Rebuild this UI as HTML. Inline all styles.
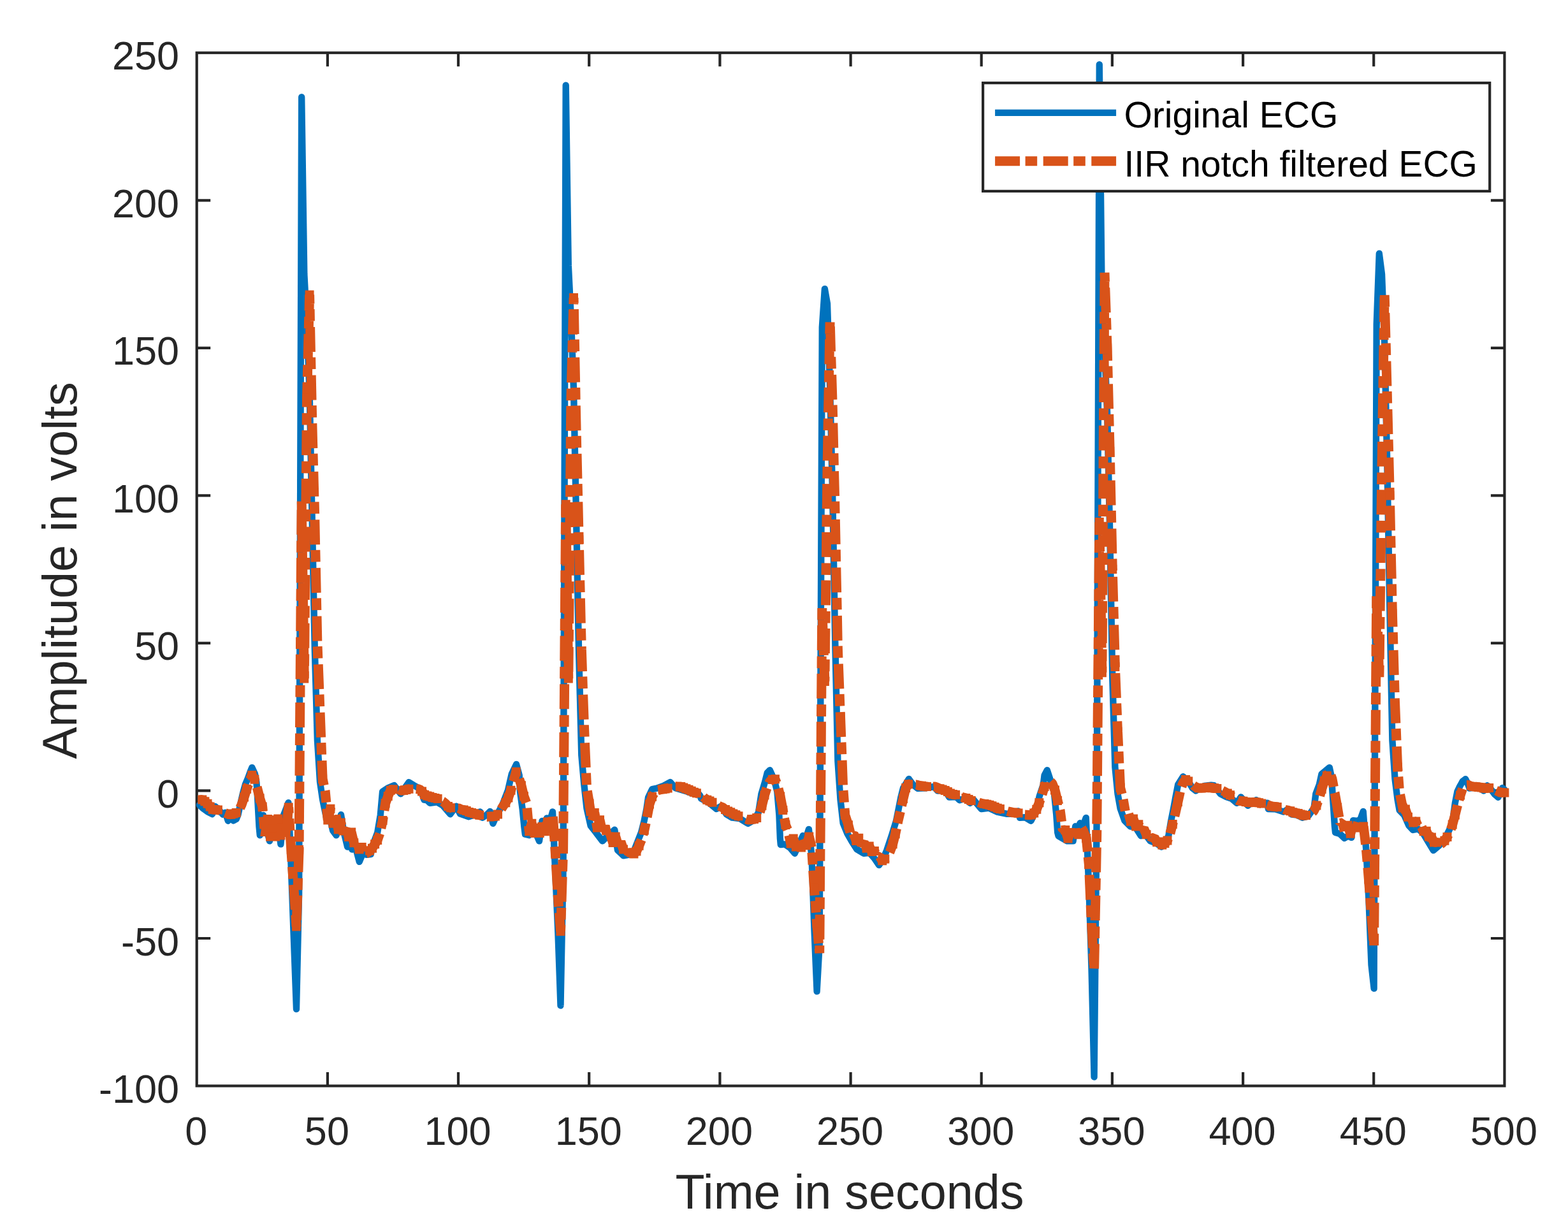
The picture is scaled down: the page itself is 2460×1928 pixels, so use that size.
<!DOCTYPE html>
<html lang="en"><head><meta charset="utf-8"><title>ECG plot</title>
<style>html,body{margin:0;padding:0;background:#fff;}body{width:2460px;height:1928px;overflow:hidden;}svg{display:block;}text{font-family:"Liberation Sans",Arial,Helvetica,sans-serif;}</style>
</head><body>
<svg width="2460" height="1928" viewBox="0 0 2460 1928">
<rect x="0" y="0" width="2460" height="1928" fill="#fff"/>
<defs><clipPath id="clip"><rect x="298.7" y="72.8" width="2071.7" height="1640.7"/></clipPath></defs>
<path d="M513.9 1703.5v-21.5M513.9 82.8v21.5M719.0 1703.5v-21.5M719.0 82.8v21.5M924.2 1703.5v-21.5M924.2 82.8v21.5M1129.4 1703.5v-21.5M1129.4 82.8v21.5M1334.6 1703.5v-21.5M1334.6 82.8v21.5M1539.7 1703.5v-21.5M1539.7 82.8v21.5M1744.9 1703.5v-21.5M1744.9 82.8v21.5M1950.1 1703.5v-21.5M1950.1 82.8v21.5M2155.2 1703.5v-21.5M2155.2 82.8v21.5M308.7 1472.0h21.5M2360.4 1472.0h-21.5M308.7 1240.4h21.5M2360.4 1240.4h-21.5M308.7 1008.9h21.5M2360.4 1008.9h-21.5M308.7 777.4h21.5M2360.4 777.4h-21.5M308.7 545.9h21.5M2360.4 545.9h-21.5M308.7 314.3h21.5M2360.4 314.3h-21.5" stroke="#262626" stroke-width="4.2" fill="none" stroke-linecap="butt"/>
<rect x="308.7" y="82.8" width="2051.7" height="1620.7" fill="none" stroke="#262626" stroke-width="4.2"/>
<g clip-path="url(#clip)" fill="none">
<polyline points="312.8,1262.9 318.3,1268.0 325.7,1273.4 333.0,1277.2 337.6,1265.1 343.1,1270.2 349.6,1277.6 353.6,1274.8 357.8,1287.7 362.0,1281.2 366.1,1287.3 370.7,1284.9 373.4,1278.5 377.5,1260.1 380.8,1245.4 384.8,1230.8 389.0,1220.7 392.7,1210.6 395.4,1204.1 400.0,1214.2 402.4,1227.1 403.7,1245.4 405.0,1269.3 406.5,1296.8 407.8,1310.3 410.1,1295.0 412.9,1278.9 417.5,1296.8 423.0,1319.4 427.6,1286.7 431.3,1289.5 435.3,1283.1 440.4,1324.4 445.0,1278.5 448.7,1269.3 452.4,1259.2 456.8,1360.8 460.9,1472.0 465.0,1583.1 469.1,1402.5 473.2,152.3 477.3,430.1 481.5,508.8 485.6,615.3 489.7,814.4 493.8,1018.2 497.9,1161.7 502.0,1226.6 506.1,1254.3 512.9,1287.3 517.5,1282.2 522.1,1302.9 527.6,1310.3 531.3,1296.8 535.0,1278.0 539.6,1306.0 545.1,1328.6 548.7,1322.5 552.4,1332.6 557.0,1326.2 563.8,1351.9 569.8,1337.2 575.3,1340.9 581.8,1340.0 585.4,1324.4 592.2,1306.0 596.8,1278.5 600.1,1241.8 608.4,1236.3 618.5,1232.1 628.6,1245.4 635.0,1236.3 641.4,1227.1 648.8,1231.7 659.8,1238.1 665.3,1254.6 669.9,1255.5 674.5,1259.8 685.5,1258.3 694.7,1263.5 706.4,1277.2 715.6,1264.8 722.0,1276.7 734.9,1281.2 744.1,1278.5 753.2,1273.4 756.9,1282.7 763.3,1278.5 768.9,1273.0 773.4,1291.9 778.9,1279.4 787.7,1263.8 796.9,1239.9 802.8,1214.2 810.1,1199.0 814.7,1216.1 816.0,1241.8 819.7,1269.3 822.4,1296.8 823.9,1308.8 830.3,1310.3 837.7,1300.5 846.0,1319.4 850.5,1288.0 854.2,1295.0 857.9,1283.5 862.5,1289.5 867.0,1273.4 871.3,1370.1 875.4,1462.7 879.5,1577.5 883.6,1365.5 887.7,133.7 891.8,416.2 895.9,499.6 900.0,610.7 904.1,814.4 908.2,1027.4 912.3,1184.9 916.4,1231.2 920.5,1268.2 926.7,1295.6 935.0,1306.0 945.1,1319.4 955.1,1309.7 964.3,1301.8 968.9,1333.6 973.5,1337.8 978.1,1342.4 986.4,1340.9 993.7,1337.2 998.7,1324.4 1006.0,1306.0 1010.6,1287.7 1014.3,1269.3 1017.0,1251.0 1023.1,1238.1 1030.4,1236.6 1041.4,1232.6 1051.5,1227.1 1059.8,1236.3 1069.0,1239.1 1078.2,1241.8 1085.5,1244.5 1092.9,1241.2 1098.4,1248.2 1100.0,1252.8 1112.8,1259.8 1123.9,1269.0 1131.2,1264.8 1139.5,1277.2 1148.7,1282.7 1160.6,1284.0 1173.4,1291.9 1182.6,1286.7 1189.9,1274.8 1194.5,1245.4 1200.0,1227.1 1203.7,1212.4 1207.8,1208.2 1214.7,1223.4 1219.3,1241.8 1222.4,1278.5 1223.9,1315.2 1224.8,1325.0 1231.3,1324.4 1239.5,1329.9 1246.9,1338.7 1253.3,1324.4 1259.7,1311.0 1264.3,1315.2 1268.9,1300.9 1273.4,1342.3 1277.5,1458.1 1281.6,1555.3 1285.7,1481.2 1289.8,513.4 1293.9,453.2 1298.0,476.4 1302.1,606.1 1306.2,777.4 1310.3,1008.9 1314.4,1194.1 1318.5,1254.3 1322.7,1291.4 1329.5,1307.9 1336.8,1320.7 1344.2,1332.3 1355.1,1338.7 1364.3,1337.8 1371.7,1346.4 1379.0,1357.1 1385.4,1348.2 1391.3,1333.6 1398.7,1311.5 1406.0,1287.7 1409.7,1269.3 1413.3,1251.0 1417.0,1236.3 1425.9,1222.0 1432.3,1230.8 1439.6,1236.8 1452.4,1236.3 1465.3,1233.9 1470.8,1240.5 1482.8,1239.9 1489.2,1250.6 1500.0,1250.0 1505.5,1255.2 1513.8,1252.8 1522.0,1259.8 1527.5,1254.6 1539.5,1269.0 1551.4,1267.5 1564.3,1273.6 1578.9,1276.7 1589.9,1276.7 1597.3,1272.4 1600.0,1282.7 1608.3,1282.2 1617.5,1287.7 1625.7,1271.1 1630.7,1249.1 1636.8,1230.8 1638.6,1216.1 1642.8,1208.2 1647.8,1223.4 1653.6,1241.8 1657.3,1278.5 1659.2,1306.0 1660.6,1311.5 1667.0,1315.2 1674.4,1319.4 1683.6,1319.4 1687.2,1296.3 1690.9,1298.7 1694.6,1291.3 1699.2,1295.0 1703.8,1282.9 1708.4,1393.3 1712.5,1518.3 1716.6,1689.6 1720.7,1277.5 1724.8,101.3 1728.9,481.0 1733.0,545.9 1737.1,647.7 1741.2,833.0 1745.3,1064.5 1749.4,1203.4 1753.5,1245.1 1757.6,1268.2 1764.3,1287.3 1773.5,1296.5 1780.9,1296.8 1790.0,1311.2 1797.4,1309.7 1804.7,1319.4 1813.9,1322.5 1822.2,1328.6 1828.6,1320.7 1833.2,1311.5 1837.2,1287.7 1840.9,1269.3 1844.6,1249.1 1848.2,1230.8 1856.1,1218.3 1865.3,1227.1 1870.8,1236.3 1876.3,1240.5 1882.8,1236.3 1889.2,1233.0 1900.0,1231.7 1904.6,1232.1 1914.7,1245.4 1923.9,1250.0 1932.1,1252.8 1940.4,1259.8 1946.8,1250.4 1952.3,1256.5 1957.8,1263.8 1964.3,1258.3 1970.7,1255.0 1978.9,1260.1 1988.1,1259.6 1989.9,1269.0 2001.0,1269.3 2013.8,1273.6 2020.2,1269.7 2026.7,1277.6 2034.9,1278.5 2043.2,1282.7 2052.4,1280.3 2061.5,1267.5 2064.3,1245.4 2069.8,1230.8 2073.5,1214.2 2085.8,1204.1 2089.1,1219.7 2090.4,1241.8 2092.2,1269.3 2094.0,1296.8 2095.0,1306.0 2101.9,1307.9 2109.3,1314.9 2114.8,1311.5 2120.3,1313.9 2123.0,1287.1 2129.5,1288.0 2134.1,1285.8 2138.7,1273.0 2143.3,1333.1 2147.4,1411.8 2151.5,1513.6 2155.6,1550.7 2159.7,508.8 2163.8,397.7 2168.0,430.1 2172.1,536.6 2176.2,721.8 2180.3,953.3 2184.4,1161.7 2188.5,1221.9 2192.6,1254.3 2195.6,1271.1 2202.9,1278.5 2210.2,1295.0 2216.7,1302.0 2224.9,1300.5 2232.3,1306.6 2239.6,1318.9 2248.8,1334.1 2258.0,1326.2 2267.1,1315.2 2274.5,1300.5 2279.1,1287.7 2282.8,1260.1 2286.4,1241.8 2289.5,1235.1 2294.5,1225.9 2299.1,1222.2 2302.8,1229.6 2305.5,1236.5 2314.7,1235.1 2322.1,1236.0 2327.6,1240.6 2333.1,1232.3 2339.5,1238.7 2345.0,1246.1 2350.5,1250.7 2357.0,1236.0 2360.4,1238.7" stroke="#0072BD" stroke-width="10.4" stroke-linecap="round" stroke-linejoin="round"/>
<path d="M313.2 1255.0L317.3 1254.4L321.4 1257.3L325.5 1260.7L329.6 1265.5L333.7 1270.1L337.8 1270.3L341.9 1270.5L345.5 1271.8M353.1 1275.5L354.2 1275.9L358.4 1277.2L362.5 1277.7L366.6 1276.4L370.7 1275.1L370.9 1274.9M376.6 1267.5L378.9 1262.8L383.0 1250.6L387.1 1237.8L389.5 1230.7M392.4 1222.8L395.3 1216.0L399.4 1222.8L400.4 1226.0M403.1 1235.0L403.5 1236.2L407.6 1252.2L411.7 1265.5L412.4 1272.8M413.1 1281.3L414.8 1299.8M415.6 1309.3L415.8 1311.1L419.9 1284.9L421.5 1295.4M422.7 1303.8L424.0 1312.4L425.5 1302.6M427.0 1293.2L428.1 1286.2L432.2 1312.4L433.0 1307.0M434.2 1298.6L436.3 1284.6L437.0 1289.0M438.5 1298.3L440.4 1310.5L444.2 1284.1M445.6 1288.3L448.6 1305.9L448.7 1305.2M449.7 1295.7L452.7 1266.4L453.3 1275.9M453.8 1284.4L454.9 1303.0M455.5 1312.4L456.8 1333.1L458.0 1351.4M458.6 1359.8L459.9 1378.4M460.5 1387.9L460.9 1393.3L463.2 1426.8M463.8 1435.3L465.0 1453.4L465.0 1453.0M465.3 1443.5L466.7 1404.5M467.0 1396.0L467.6 1377.4M467.9 1367.9L469.1 1333.1L469.1 1328.9M469.2 1320.4L469.3 1301.8M469.4 1292.3L469.7 1253.3M469.8 1244.8L469.9 1226.2M470.0 1216.7L470.3 1177.7M470.3 1169.2L470.5 1150.6M470.5 1141.1L470.8 1102.1M470.9 1093.6L471.0 1075.0M471.1 1065.5L471.4 1026.6M471.5 1018.1L471.6 999.5M471.7 990.0L472.0 951.0M472.0 942.5L472.2 923.9M472.2 914.4L472.5 875.4M472.6 866.9L472.7 848.3M472.8 838.8L473.1 799.8M473.2 791.3L473.2 786.6L473.4 800.5M473.5 810.0L474.1 849.0M474.2 857.5L474.5 876.1M474.7 885.6L475.2 924.6M475.4 933.1L475.6 951.7M475.8 961.2L476.4 1000.2M476.5 1008.7L476.8 1027.3M476.9 1036.8L477.3 1064.5L477.4 1053.2M477.5 1044.7L477.7 1026.1M477.8 1016.6L478.1 977.6M478.2 969.1L478.4 950.5M478.5 941.0L478.9 902.0M478.9 893.5L479.1 874.9M479.2 865.4L479.6 826.4M479.7 817.9L479.8 799.3M479.9 789.8L480.3 750.8M480.4 742.3L480.6 723.7M480.6 714.2L481.0 675.2M481.1 666.7L481.3 648.1M481.4 638.6L481.5 624.6L482.1 599.6M482.3 591.1L482.8 572.5M483.1 563.0L484.0 524.0M484.3 515.5L484.7 496.9M485.0 487.5L485.6 462.5L485.9 476.5M486.1 485.0L486.4 503.6M486.6 513.1L487.4 552.1M487.6 560.6L488.0 579.2M488.2 588.7L489.0 627.7M489.2 636.2L489.6 654.8M489.8 664.3L490.8 703.3M491.0 711.8L491.5 730.4M491.8 739.9L492.8 778.9M493.1 787.4L493.6 805.9M493.8 815.4L494.6 854.4M494.8 862.9L495.2 881.5M495.4 891.0L496.2 930.0M496.4 938.5L496.8 957.1M497.0 966.6L497.8 1005.6M498.1 1014.1L498.8 1032.7M499.2 1042.2L500.7 1081.1M501.0 1089.6L501.7 1108.2M502.1 1117.7L503.6 1156.7M503.9 1165.2L504.6 1183.8M505.0 1193.3L506.1 1221.9L508.2 1232.0M510.0 1240.3L510.2 1241.5L511.8 1258.8M512.6 1268.3L514.3 1286.6L518.4 1268.7L518.8 1270.9M520.3 1279.3L522.5 1291.7L524.2 1285.9M526.8 1278.6L530.7 1301.3L534.8 1290.4L535.7 1294.6M537.6 1302.9L538.9 1308.6L542.9 1296.5M545.2 1305.3L547.1 1313.1L551.2 1305.6L555.3 1322.3L558.6 1318.2M561.3 1324.3L563.5 1332.5L567.6 1328.9L569.3 1333.3M574.2 1338.9L575.8 1338.4L579.9 1334.5L584.0 1330.7L588.1 1324.2L592.2 1317.9L595.8 1307.6M597.8 1299.4L600.5 1287.0L601.4 1281.1M602.8 1271.7L604.6 1260.3L608.7 1249.1L612.8 1239.7L616.9 1238.3L617.7 1237.9M625.5 1238.5L629.2 1240.2L633.3 1240.1L637.4 1238.9L641.5 1237.8L643.4 1237.5M652.8 1237.6L653.8 1237.7L657.9 1237.9L662.0 1241.4L666.1 1246.7L670.2 1248.6L674.3 1249.5L678.4 1251.1L682.5 1251.9L686.6 1253.0L686.9 1253.1M694.4 1257.1L694.8 1257.3L698.9 1260.6L703.0 1265.1L707.1 1267.3L709.2 1267.7M718.7 1267.9L719.5 1267.9L723.6 1269.8L727.7 1270.6L731.8 1272.0L735.9 1273.9L740.0 1275.1L744.1 1276.2L748.2 1277.6L752.3 1278.8L755.7 1279.7M763.8 1281.4L764.6 1281.4L768.7 1280.7L772.8 1281.1L776.9 1280.4L781.0 1277.6L781.2 1277.2M786.5 1269.3L789.2 1264.7L793.3 1259.3L797.4 1251.5L801.5 1239.8L803.1 1234.4M805.4 1226.2L805.6 1225.6L809.7 1210.8L810.8 1213.2M814.6 1221.9L817.9 1232.2L822.0 1249.2L825.7 1259.2M826.8 1267.6L828.5 1286.1M829.4 1295.6L830.2 1304.3L834.3 1291.7L838.4 1306.9L838.8 1305.7M841.5 1297.6L842.6 1294.3L846.7 1307.1L847.1 1305.5M849.6 1296.4L850.8 1291.8L854.9 1304.2L859.0 1289.3L860.7 1294.8M863.2 1301.9L866.2 1283.5M867.4 1280.9L870.1 1319.8M870.7 1328.3L871.3 1337.7L871.8 1346.9M872.4 1356.3L874.7 1395.3M875.2 1403.8L875.4 1407.1L876.6 1422.3M877.3 1431.8L879.5 1460.9L879.8 1451.1M880.1 1442.6L880.7 1424.0M881.0 1414.5L882.2 1375.5M882.5 1367.1L883.1 1348.5M883.4 1339.0L883.6 1333.1L883.9 1300.0M883.9 1291.5L884.1 1272.9M884.1 1263.4L884.4 1224.4M884.5 1215.9L884.6 1197.3M884.7 1187.8L885.0 1148.8M885.1 1140.3L885.2 1121.7M885.3 1112.2L885.6 1073.2M885.6 1064.7L885.8 1046.1M885.8 1036.6L886.1 997.6M886.2 989.1L886.3 970.5M886.4 961.0L886.7 922.0M886.8 913.5L886.9 894.9M887.0 885.4L887.3 846.4M887.3 837.9L887.5 819.3M887.6 809.8L887.7 791.3L888.0 811.8M888.1 820.3L888.4 838.9M888.6 848.4L889.1 887.4M889.3 895.9L889.5 914.5M889.7 924.0L890.3 963.0M890.4 971.5L890.7 990.1M890.8 999.6L891.4 1038.6M891.5 1047.1L891.8 1064.5L891.8 1063.3M891.9 1053.8L892.3 1014.8M892.3 1006.3L892.5 987.7M892.6 978.2L893.0 939.2M893.0 930.7L893.2 912.1M893.3 902.6L893.7 863.6M893.8 855.1L893.9 836.5M894.0 827.0L894.4 788.0M894.5 779.5L894.6 760.9M894.7 751.4L895.1 712.4M895.2 703.9L895.3 685.3M895.4 675.8L895.8 636.8M895.9 628.3L895.9 624.6L896.3 609.7M896.5 600.2L897.5 561.3M897.8 552.8L898.3 534.2M898.5 524.7L899.5 485.7M899.7 477.2L900.0 467.1L900.2 475.6M900.4 485.1L901.1 524.1M901.3 532.6L901.7 551.2M901.8 560.7L902.6 599.7M902.8 608.2L903.1 626.8M903.3 636.3L904.1 675.3M904.3 683.8L904.7 702.4M905.0 711.9L905.9 750.9M906.1 759.3L906.6 777.9M906.8 787.4L907.7 826.4M907.9 834.9L908.2 846.8L908.4 853.5M908.6 863.0L909.5 902.0M909.7 910.5L910.2 929.1M910.4 938.6L911.3 977.6M911.5 986.1L912.0 1004.7M912.2 1014.2L912.3 1018.2L913.5 1053.2M913.8 1061.6L914.4 1080.2M914.7 1089.7L916.1 1128.7M916.4 1137.2L916.4 1138.6L917.1 1155.8M917.5 1165.3L919.2 1204.2M919.5 1212.7L920.3 1231.3M921.3 1240.7L924.6 1260.5L927.4 1279.3M928.8 1287.3L932.8 1275.1L933.8 1280.7M935.4 1290.1L936.9 1298.4L941.0 1286.3L944.7 1303.7M947.4 1299.9L949.2 1295.5L952.0 1309.1M954.7 1313.1L957.4 1308.2L961.6 1321.9L965.7 1312.4L968.2 1320.7M971.5 1323.7L973.9 1320.5L978.0 1332.6L979.3 1331.4M984.3 1333.9L986.2 1338.4L990.3 1337.5L994.4 1339.4L998.5 1335.5L1002.6 1326.8L1006.3 1317.4M1008.8 1309.3L1010.8 1302.4L1013.2 1291.2M1015.1 1281.9L1019.0 1261.4L1023.1 1249.7L1026.0 1244.8M1032.4 1239.5L1035.4 1239.0L1039.5 1238.2L1043.6 1237.4L1047.7 1236.5L1050.5 1235.4M1059.7 1233.7L1060.0 1233.7L1064.1 1233.9L1068.2 1234.1L1072.3 1235.6L1076.4 1237.2L1080.5 1238.8L1084.7 1240.7L1088.8 1242.8L1092.9 1244.2L1096.3 1245.7M1103.5 1250.2L1105.2 1251.8L1109.3 1254.7L1113.4 1256.6L1117.5 1258.7L1119.3 1259.7M1127.7 1264.3L1129.8 1265.1L1133.9 1266.8L1138.0 1269.9L1142.1 1272.5L1146.2 1274.3L1150.3 1276.4L1154.4 1278.3L1158.5 1280.2L1162.4 1281.7M1170.2 1285.0L1170.8 1285.2L1174.9 1286.2L1179.0 1285.5L1183.1 1284.9L1187.2 1282.9L1187.7 1282.2M1192.2 1273.9L1195.4 1263.7L1199.5 1247.3L1203.0 1236.4M1206.4 1228.6L1207.8 1225.6L1211.9 1223.0L1216.0 1222.2L1218.3 1228.0M1221.1 1237.0L1224.2 1249.6L1228.3 1271.0L1229.0 1275.2M1230.5 1283.6L1232.4 1293.9L1235.5 1301.4M1237.9 1310.5L1240.6 1323.4L1244.7 1315.4L1248.8 1328.5L1250.0 1325.6M1253.1 1318.7L1257.0 1329.6L1259.1 1322.9M1262.3 1319.6L1265.2 1326.3L1269.3 1312.4L1273.4 1329.2M1273.9 1337.6L1275.1 1356.2M1275.7 1365.7L1277.5 1393.3L1278.3 1404.6M1279.0 1413.1L1280.3 1431.6M1281.0 1441.1L1281.6 1448.8L1284.4 1480.0M1285.1 1488.4L1285.7 1495.1L1285.8 1483.2M1285.9 1473.7L1286.2 1434.7M1286.2 1426.2L1286.4 1407.6M1286.4 1398.1L1286.7 1359.1M1286.8 1350.6L1286.9 1332.0M1287.0 1322.5L1287.3 1283.5M1287.4 1275.0L1287.5 1256.4M1287.6 1246.9L1287.9 1207.9M1287.9 1199.4L1288.1 1180.8M1288.2 1171.3L1288.4 1132.3M1288.5 1123.8L1288.7 1105.2M1288.7 1095.7L1289.0 1056.7M1289.1 1048.2L1289.2 1029.6M1289.3 1020.1L1289.6 981.1M1289.7 972.6L1289.8 954.0M1290.1 962.1L1291.5 1001.1M1291.8 1009.6L1292.4 1028.1M1292.8 1037.6L1293.9 1069.1L1294.0 1061.6M1294.1 1053.1L1294.3 1034.5M1294.4 1025.0L1294.9 986.0M1295.0 977.5L1295.2 958.9M1295.4 949.4L1295.8 910.4M1295.9 901.9L1296.2 883.3M1296.3 873.8L1296.7 834.8M1296.8 826.3L1297.1 807.7M1297.2 798.2L1297.7 759.2M1297.8 750.7L1298.0 732.1M1298.2 722.6L1298.9 683.6M1299.0 675.1L1299.3 656.5M1299.5 647.0L1300.2 608.0M1300.4 599.5L1300.7 580.9M1300.9 571.4L1301.6 532.4M1301.7 523.9L1302.1 505.3M1302.4 512.5L1303.5 551.5M1303.8 560.0L1304.4 578.6M1304.7 588.1L1305.9 627.1M1306.1 635.6L1306.2 638.5L1306.6 654.2M1306.8 663.7L1307.7 702.7M1307.9 711.2L1308.3 729.8M1308.5 739.3L1309.5 778.3M1309.7 786.7L1310.1 805.3M1310.3 814.8L1311.1 853.8M1311.3 862.3L1311.6 880.9M1311.8 890.4L1312.6 929.4M1312.8 937.9L1313.2 956.5M1313.4 966.0L1314.1 1005.0M1314.3 1013.5L1314.4 1018.2L1314.9 1032.1M1315.3 1041.6L1316.8 1080.6M1317.1 1089.0L1317.8 1107.6M1318.2 1117.1L1318.5 1124.7L1319.7 1156.1M1320.0 1164.6L1320.7 1183.2M1321.1 1192.7L1322.5 1231.6M1323.0 1240.1L1324.4 1258.7M1325.0 1268.2L1325.8 1278.5L1330.9 1294.3L1333.9 1306.0M1338.4 1308.2L1339.1 1307.8L1343.2 1319.0L1347.3 1314.8M1350.8 1323.6L1351.4 1325.2L1355.5 1321.8L1359.6 1330.8L1363.7 1327.4L1367.8 1336.0L1371.9 1335.0L1373.2 1337.8M1377.8 1343.8L1380.1 1343.7L1384.2 1350.3L1388.3 1347.5L1391.1 1345.3M1395.7 1337.1L1396.5 1335.4L1400.6 1324.3L1404.7 1308.2L1406.5 1299.7M1408.2 1291.4L1408.8 1288.5L1412.4 1273.3M1414.5 1264.0L1417.0 1253.1L1421.1 1236.1L1425.2 1230.3L1428.4 1230.1M1436.8 1231.0L1437.5 1231.0L1441.6 1232.0L1445.8 1232.8L1449.9 1233.7L1454.0 1234.1L1455.1 1234.2M1464.6 1234.1L1466.3 1233.9L1470.4 1235.3L1474.5 1237.2L1478.6 1238.4L1482.7 1240.0L1486.8 1241.9L1490.9 1244.5L1495.0 1245.9L1499.1 1246.8L1500.9 1247.0M1508.6 1250.2L1511.4 1251.0L1515.5 1252.1L1519.6 1254.1L1523.7 1255.9L1526.1 1256.1M1535.2 1258.7L1536.0 1259.0L1540.1 1260.4L1544.2 1261.1L1548.3 1261.8L1552.4 1262.7L1556.5 1264.2L1560.6 1266.0L1564.8 1267.8L1568.9 1269.0L1572.4 1269.9M1580.5 1272.6L1581.2 1272.8L1585.3 1273.6L1589.4 1274.5L1593.5 1275.3L1597.6 1275.4L1598.7 1275.8M1607.9 1278.1L1609.9 1278.2L1614.0 1278.5L1618.1 1278.6L1622.2 1275.4L1626.3 1269.8L1630.4 1259.3L1632.2 1254.3M1634.9 1246.2L1638.6 1234.1L1641.2 1228.8M1648.1 1226.1L1650.9 1229.1L1655.0 1239.4L1659.1 1256.0L1660.8 1262.4M1663.0 1270.7L1663.2 1271.6L1665.5 1289.1M1666.8 1298.5L1667.3 1302.2L1671.4 1302.1L1675.5 1315.5L1679.6 1306.1L1682.7 1312.3M1685.8 1308.4L1687.9 1302.5L1692.0 1309.3L1693.4 1305.2M1696.9 1298.9L1700.2 1304.4L1704.3 1314.9L1706.4 1336.0M1707.2 1344.5L1708.4 1356.2L1708.7 1363.0M1709.1 1372.5L1710.8 1411.5M1711.2 1420.0L1712.0 1438.6M1712.5 1448.1L1712.5 1448.8L1714.7 1487.0M1715.1 1495.5L1716.2 1514.1M1716.6 1519.5L1717.4 1480.5M1717.6 1472.0L1717.9 1453.4M1718.1 1443.9L1718.9 1404.9M1719.0 1396.4L1719.4 1377.8M1719.6 1368.3L1720.3 1329.3M1720.5 1320.8L1720.7 1309.9L1720.8 1302.2M1720.8 1292.7L1721.2 1253.7M1721.2 1245.2L1721.4 1226.6M1721.5 1217.1L1721.8 1178.1M1721.9 1169.6L1722.0 1151.0M1722.1 1141.5L1722.4 1102.5M1722.5 1094.0L1722.7 1075.4M1722.7 1065.9L1723.1 1026.9M1723.1 1018.4L1723.3 999.8M1723.4 990.3L1723.7 951.3M1723.8 942.8L1723.9 924.2M1724.0 914.7L1724.3 875.7M1724.4 867.2L1724.6 848.6M1724.6 839.1L1724.8 819.1L1725.1 838.1M1725.3 846.6L1725.6 865.2M1725.8 874.7L1726.4 913.7M1726.6 922.2L1726.9 940.8M1727.1 950.3L1727.8 989.3M1727.9 997.8L1728.2 1016.4M1728.4 1025.9L1728.9 1055.2L1729.0 1045.6M1729.0 1037.1L1729.1 1018.5M1729.2 1009.0L1729.5 970.0M1729.5 961.5L1729.6 942.9M1729.7 933.4L1730.0 894.4M1730.0 885.9L1730.1 867.3M1730.2 857.8L1730.4 818.8M1730.5 810.3L1730.6 791.7M1730.7 782.2L1730.9 743.2M1731.0 734.7L1731.1 716.1M1731.2 706.6L1731.4 667.6M1731.5 659.1L1731.6 640.5M1731.7 631.0L1731.9 592.0M1732.0 583.5L1732.1 564.9M1732.2 555.4L1732.4 516.4M1732.5 507.9L1732.6 489.3M1732.7 479.8L1732.9 440.8M1733.0 432.3L1733.0 427.8L1733.5 441.9M1733.8 451.4L1735.2 490.4M1735.5 498.9L1736.1 517.5M1736.4 527.0L1737.1 545.9L1737.6 566.0M1737.8 574.5L1738.3 593.0M1738.5 602.5L1739.5 641.5M1739.7 650.0L1740.2 668.6M1740.4 678.1L1741.2 707.9L1741.4 717.1M1741.6 725.6L1742.0 744.2M1742.2 753.7L1743.1 792.7M1743.3 801.2L1743.7 819.8M1743.9 829.3L1744.8 868.3M1744.9 876.8L1745.3 893.1L1745.4 895.4M1745.6 904.9L1746.7 943.8M1746.9 952.3L1747.4 970.9M1747.6 980.4L1748.7 1019.4M1748.9 1027.9L1749.4 1046.0L1749.4 1046.5M1749.8 1056.0L1751.4 1095.0M1751.7 1103.5L1752.5 1122.1M1752.8 1131.5L1753.5 1147.8L1754.6 1170.5M1755.0 1179.0L1755.8 1197.6M1756.3 1207.1L1757.6 1235.8L1760.1 1245.7M1762.1 1254.0L1765.3 1272.3M1770.5 1276.5L1774.0 1288.8L1778.1 1284.6L1782.2 1296.5L1786.3 1293.2L1787.2 1295.5M1790.4 1303.3L1794.5 1299.9L1798.6 1309.2L1801.4 1307.6M1806.2 1314.0L1806.9 1315.4L1811.0 1313.9L1815.1 1321.3L1819.2 1320.6L1823.3 1325.4L1827.4 1323.1L1831.5 1318.6L1832.7 1315.4M1835.8 1307.5L1839.7 1292.9L1840.5 1289.5M1842.8 1280.3L1843.8 1276.3L1847.9 1258.1L1851.4 1242.2M1853.9 1234.1L1856.1 1227.9L1860.2 1223.1L1864.3 1225.5L1865.1 1226.0M1872.3 1232.0L1872.5 1232.2L1876.6 1234.9L1880.7 1236.3L1884.8 1236.2L1888.9 1236.1L1893.0 1235.6L1897.1 1234.9L1901.2 1236.2L1905.3 1236.3L1909.4 1236.9L1909.8 1237.1M1917.7 1240.3L1921.7 1242.2L1925.8 1244.6L1930.0 1247.3L1933.5 1250.0M1941.4 1255.3L1942.3 1255.8L1946.4 1256.5L1950.5 1256.7L1954.6 1258.1L1958.7 1258.9L1962.8 1258.8L1966.9 1258.5L1971.0 1258.5L1975.1 1259.2L1979.2 1260.5L1979.6 1260.6M1987.9 1262.3L1991.5 1263.7L1995.6 1265.0L1999.7 1265.4L2003.8 1266.0L2005.9 1266.5M2014.8 1269.7L2016.1 1270.3L2020.2 1271.1L2024.3 1272.2L2028.4 1274.3L2032.5 1275.4L2036.6 1276.1L2040.7 1277.6L2044.8 1279.3L2049.0 1279.0L2052.0 1278.2M2059.3 1273.9L2061.3 1272.1L2065.4 1263.6L2067.6 1257.5M2070.6 1248.5L2073.6 1237.9L2077.7 1225.1L2081.8 1216.9L2084.7 1212.4M2088.0 1216.4L2090.0 1222.1L2092.3 1234.4M2094.0 1243.8L2094.1 1244.1L2098.2 1266.8L2100.8 1282.2M2102.2 1290.6L2102.3 1291.4L2106.4 1290.7L2109.4 1304.0M2111.8 1304.2L2114.6 1294.7L2118.7 1307.8L2122.6 1293.0M2125.4 1299.3L2126.9 1303.5L2130.4 1289.8M2133.3 1293.8L2135.1 1299.1L2139.2 1296.4L2142.6 1324.7M2143.5 1333.1L2145.1 1351.7M2145.9 1361.1L2147.4 1379.4L2148.9 1400.0M2149.5 1408.5L2150.9 1427.0M2151.6 1436.5L2154.9 1475.4M2155.6 1483.2L2155.7 1464.6M2155.8 1455.1L2156.1 1416.1M2156.2 1407.6L2156.3 1389.0M2156.4 1379.5L2156.7 1340.5M2156.7 1332.0L2156.9 1313.4M2156.9 1303.9L2157.2 1264.9M2157.3 1256.4L2157.4 1237.8M2157.5 1228.3L2157.8 1189.3M2157.9 1180.8L2158.0 1162.2M2158.1 1152.7L2158.4 1113.7M2158.4 1105.2L2158.6 1086.6M2158.6 1077.1L2158.9 1038.1M2159.0 1029.6L2159.1 1011.0M2159.2 1001.5L2159.5 962.5M2159.6 954.0L2159.7 935.4M2160.0 943.7L2161.2 982.7M2161.5 991.2L2162.1 1009.8M2162.4 1019.3L2163.6 1058.3M2163.8 1062.2L2164.1 1043.6M2164.2 1034.1L2164.7 995.1M2164.8 986.6L2165.0 968.0M2165.1 958.5L2165.6 919.6M2165.7 911.1L2166.0 892.5M2166.1 883.0L2166.6 844.0M2166.7 835.5L2166.9 816.9M2167.0 807.4L2167.5 768.4M2167.6 759.9L2167.9 741.3M2168.0 731.8L2168.0 731.1L2168.6 692.8M2168.7 684.3L2169.0 665.7M2169.1 656.2L2169.7 617.2M2169.9 608.7L2170.1 590.1M2170.3 580.6L2170.9 541.6M2171.0 533.1L2171.3 514.5M2171.4 505.0L2172.0 466.0M2172.2 462.9L2172.7 481.5M2172.9 491.0L2173.9 530.0M2174.2 538.5L2174.7 557.1M2174.9 566.6L2175.9 605.6M2176.2 614.0L2176.2 615.3L2176.6 632.6M2176.9 642.1L2177.9 681.1M2178.1 689.6L2178.6 708.2M2178.8 717.7L2179.8 756.7M2180.0 765.2L2180.3 777.4L2180.4 783.8M2180.7 793.3L2181.5 832.3M2181.7 840.8L2182.1 859.4M2182.3 868.9L2183.2 907.9M2183.4 916.4L2183.8 935.0M2184.0 944.5L2184.4 962.6L2185.0 983.4M2185.3 991.9L2185.8 1010.5M2186.1 1020.0L2187.2 1059.0M2187.5 1067.5L2188.0 1086.1M2188.3 1095.6L2188.5 1101.5L2189.8 1134.6M2190.2 1143.1L2190.9 1161.6M2191.3 1171.1L2192.6 1203.4L2193.1 1210.1M2193.8 1218.6L2195.2 1237.1M2196.5 1246.5L2200.8 1267.6L2204.9 1269.6L2209.0 1281.7L2209.1 1281.6M2214.6 1283.8L2217.2 1290.4L2221.3 1288.5L2224.2 1294.8M2230.4 1297.3L2233.6 1304.3L2237.7 1303.7L2241.8 1312.5L2245.9 1313.6L2250.0 1321.5L2254.1 1321.4L2254.3 1321.5M2260.9 1323.7L2262.3 1323.0L2266.4 1318.8L2270.5 1312.9L2272.5 1309.4M2276.3 1300.8L2278.7 1293.6L2282.8 1278.5L2286.6 1263.2M2288.9 1255.0L2291.1 1247.5L2294.5 1237.3M2301.1 1231.5L2303.4 1231.4L2307.5 1233.3L2311.6 1233.9L2315.7 1234.2L2319.8 1234.9L2323.9 1235.3L2328.0 1236.4L2332.1 1236.6L2336.2 1236.0L2339.2 1237.0M2347.1 1240.1L2348.5 1240.7L2352.6 1242.8L2356.7 1243.3L2360.4 1243.5" stroke="#D95319" stroke-width="15.0" stroke-linecap="butt" stroke-linejoin="bevel"/>
<path d="M310.3 1247.4h14.0v14.0h-14.0zM314.4 1250.3h14.0v14.0h-14.0zM318.5 1253.7h14.0v14.0h-14.0zM322.6 1258.5h14.0v14.0h-14.0zM326.7 1263.1h14.0v14.0h-14.0zM330.8 1263.3h14.0v14.0h-14.0zM334.9 1263.5h14.0v14.0h-14.0zM355.5 1270.7h14.0v14.0h-14.0zM359.6 1269.4h14.0v14.0h-14.0zM363.7 1268.1h14.0v14.0h-14.0zM376.0 1243.6h14.0v14.0h-14.0zM380.1 1230.8h14.0v14.0h-14.0zM388.3 1209.0h14.0v14.0h-14.0zM392.4 1215.8h14.0v14.0h-14.0zM400.6 1245.2h14.0v14.0h-14.0zM404.7 1258.5h14.0v14.0h-14.0zM412.9 1277.9h14.0v14.0h-14.0zM417.0 1305.4h14.0v14.0h-14.0zM421.1 1279.2h14.0v14.0h-14.0zM425.2 1305.4h14.0v14.0h-14.0zM429.3 1277.6h14.0v14.0h-14.0zM433.4 1303.5h14.0v14.0h-14.0zM441.6 1298.9h14.0v14.0h-14.0zM445.7 1259.4h14.0v14.0h-14.0zM449.8 1326.1h14.0v14.0h-14.0zM458.0 1446.4h14.0v14.0h-14.0zM462.1 1326.1h14.0v14.0h-14.0zM470.3 1057.5h14.0v14.0h-14.0zM474.5 617.6h14.0v14.0h-14.0zM478.6 455.5h14.0v14.0h-14.0zM499.1 1214.9h14.0v14.0h-14.0zM507.3 1279.6h14.0v14.0h-14.0zM511.4 1261.7h14.0v14.0h-14.0zM515.5 1284.7h14.0v14.0h-14.0zM523.7 1294.3h14.0v14.0h-14.0zM527.8 1283.4h14.0v14.0h-14.0zM540.1 1306.1h14.0v14.0h-14.0zM544.2 1298.6h14.0v14.0h-14.0zM548.3 1315.3h14.0v14.0h-14.0zM556.5 1325.5h14.0v14.0h-14.0zM560.6 1321.9h14.0v14.0h-14.0zM572.9 1327.5h14.0v14.0h-14.0zM577.0 1323.7h14.0v14.0h-14.0zM581.1 1317.2h14.0v14.0h-14.0zM585.2 1310.9h14.0v14.0h-14.0zM593.5 1280.0h14.0v14.0h-14.0zM597.6 1253.3h14.0v14.0h-14.0zM601.7 1242.1h14.0v14.0h-14.0zM605.8 1232.7h14.0v14.0h-14.0zM609.9 1231.3h14.0v14.0h-14.0zM626.3 1233.1h14.0v14.0h-14.0zM630.4 1231.9h14.0v14.0h-14.0zM634.5 1230.8h14.0v14.0h-14.0zM655.0 1234.4h14.0v14.0h-14.0zM659.1 1239.7h14.0v14.0h-14.0zM663.2 1241.6h14.0v14.0h-14.0zM667.3 1242.5h14.0v14.0h-14.0zM671.4 1244.1h14.0v14.0h-14.0zM675.5 1244.9h14.0v14.0h-14.0zM679.6 1246.0h14.0v14.0h-14.0zM696.0 1258.1h14.0v14.0h-14.0zM700.1 1260.3h14.0v14.0h-14.0zM720.7 1263.6h14.0v14.0h-14.0zM724.8 1265.0h14.0v14.0h-14.0zM728.9 1266.9h14.0v14.0h-14.0zM733.0 1268.1h14.0v14.0h-14.0zM737.1 1269.2h14.0v14.0h-14.0zM741.2 1270.6h14.0v14.0h-14.0zM745.3 1271.8h14.0v14.0h-14.0zM765.8 1274.1h14.0v14.0h-14.0zM769.9 1273.4h14.0v14.0h-14.0zM774.0 1270.6h14.0v14.0h-14.0zM786.3 1252.3h14.0v14.0h-14.0zM790.4 1244.5h14.0v14.0h-14.0zM794.5 1232.8h14.0v14.0h-14.0zM802.7 1203.8h14.0v14.0h-14.0zM810.9 1225.2h14.0v14.0h-14.0zM815.0 1242.2h14.0v14.0h-14.0zM823.2 1297.3h14.0v14.0h-14.0zM827.3 1284.7h14.0v14.0h-14.0zM831.4 1299.9h14.0v14.0h-14.0zM839.7 1300.1h14.0v14.0h-14.0zM847.9 1297.2h14.0v14.0h-14.0zM852.0 1282.3h14.0v14.0h-14.0zM864.3 1330.7h14.0v14.0h-14.0zM872.5 1453.9h14.0v14.0h-14.0zM880.7 784.3h14.0v14.0h-14.0zM884.8 1057.5h14.0v14.0h-14.0zM893.0 460.1h14.0v14.0h-14.0zM901.2 839.8h14.0v14.0h-14.0zM917.6 1253.5h14.0v14.0h-14.0zM925.8 1268.1h14.0v14.0h-14.0zM929.9 1291.4h14.0v14.0h-14.0zM934.0 1279.3h14.0v14.0h-14.0zM954.6 1314.9h14.0v14.0h-14.0zM958.7 1305.4h14.0v14.0h-14.0zM971.0 1325.6h14.0v14.0h-14.0zM983.3 1330.5h14.0v14.0h-14.0zM987.4 1332.4h14.0v14.0h-14.0zM991.5 1328.5h14.0v14.0h-14.0zM995.6 1319.8h14.0v14.0h-14.0zM1003.8 1295.4h14.0v14.0h-14.0zM1012.0 1254.4h14.0v14.0h-14.0zM1016.1 1242.7h14.0v14.0h-14.0zM1032.5 1231.2h14.0v14.0h-14.0zM1036.6 1230.4h14.0v14.0h-14.0zM1040.7 1229.5h14.0v14.0h-14.0zM1061.2 1227.1h14.0v14.0h-14.0zM1065.3 1228.6h14.0v14.0h-14.0zM1069.4 1230.2h14.0v14.0h-14.0zM1073.5 1231.8h14.0v14.0h-14.0zM1077.7 1233.7h14.0v14.0h-14.0zM1081.8 1235.8h14.0v14.0h-14.0zM1085.9 1237.2h14.0v14.0h-14.0zM1102.3 1247.7h14.0v14.0h-14.0zM1106.4 1249.6h14.0v14.0h-14.0zM1110.5 1251.7h14.0v14.0h-14.0zM1131.0 1262.9h14.0v14.0h-14.0zM1135.1 1265.5h14.0v14.0h-14.0zM1139.2 1267.3h14.0v14.0h-14.0zM1143.3 1269.4h14.0v14.0h-14.0zM1147.4 1271.3h14.0v14.0h-14.0zM1151.5 1273.2h14.0v14.0h-14.0zM1172.0 1278.5h14.0v14.0h-14.0zM1176.1 1277.9h14.0v14.0h-14.0zM1180.2 1275.9h14.0v14.0h-14.0zM1188.4 1256.7h14.0v14.0h-14.0zM1192.5 1240.3h14.0v14.0h-14.0zM1204.9 1216.0h14.0v14.0h-14.0zM1209.0 1215.2h14.0v14.0h-14.0zM1217.2 1242.6h14.0v14.0h-14.0zM1221.3 1264.0h14.0v14.0h-14.0zM1225.4 1286.9h14.0v14.0h-14.0zM1233.6 1316.4h14.0v14.0h-14.0zM1237.7 1308.4h14.0v14.0h-14.0zM1241.8 1321.5h14.0v14.0h-14.0zM1250.0 1322.6h14.0v14.0h-14.0zM1258.2 1319.3h14.0v14.0h-14.0zM1262.3 1305.4h14.0v14.0h-14.0zM1270.5 1386.3h14.0v14.0h-14.0zM1274.6 1441.8h14.0v14.0h-14.0zM1286.9 1062.1h14.0v14.0h-14.0zM1311.5 1117.7h14.0v14.0h-14.0zM1318.8 1271.5h14.0v14.0h-14.0zM1323.9 1287.3h14.0v14.0h-14.0zM1336.2 1312.0h14.0v14.0h-14.0zM1340.3 1307.8h14.0v14.0h-14.0zM1352.6 1323.8h14.0v14.0h-14.0zM1356.7 1320.4h14.0v14.0h-14.0zM1360.8 1329.0h14.0v14.0h-14.0zM1364.9 1328.0h14.0v14.0h-14.0zM1377.2 1343.3h14.0v14.0h-14.0zM1381.3 1340.5h14.0v14.0h-14.0zM1393.6 1317.3h14.0v14.0h-14.0zM1397.7 1301.2h14.0v14.0h-14.0zM1410.0 1246.1h14.0v14.0h-14.0zM1414.1 1229.1h14.0v14.0h-14.0zM1418.2 1223.3h14.0v14.0h-14.0zM1438.8 1225.8h14.0v14.0h-14.0zM1442.9 1226.7h14.0v14.0h-14.0zM1447.0 1227.1h14.0v14.0h-14.0zM1467.5 1230.2h14.0v14.0h-14.0zM1471.6 1231.4h14.0v14.0h-14.0zM1475.7 1233.0h14.0v14.0h-14.0zM1479.8 1234.9h14.0v14.0h-14.0zM1483.9 1237.5h14.0v14.0h-14.0zM1488.0 1238.9h14.0v14.0h-14.0zM1492.1 1239.8h14.0v14.0h-14.0zM1508.5 1245.1h14.0v14.0h-14.0zM1512.6 1247.1h14.0v14.0h-14.0zM1516.7 1248.9h14.0v14.0h-14.0zM1537.2 1254.1h14.0v14.0h-14.0zM1541.3 1254.8h14.0v14.0h-14.0zM1545.4 1255.7h14.0v14.0h-14.0zM1549.5 1257.2h14.0v14.0h-14.0zM1553.6 1259.0h14.0v14.0h-14.0zM1557.8 1260.8h14.0v14.0h-14.0zM1561.9 1262.0h14.0v14.0h-14.0zM1582.4 1267.5h14.0v14.0h-14.0zM1586.5 1268.3h14.0v14.0h-14.0zM1590.6 1268.4h14.0v14.0h-14.0zM1611.1 1271.6h14.0v14.0h-14.0zM1615.2 1268.4h14.0v14.0h-14.0zM1619.3 1262.8h14.0v14.0h-14.0zM1623.4 1252.3h14.0v14.0h-14.0zM1631.6 1227.1h14.0v14.0h-14.0zM1648.0 1232.4h14.0v14.0h-14.0zM1652.1 1249.0h14.0v14.0h-14.0zM1664.4 1295.1h14.0v14.0h-14.0zM1668.5 1308.5h14.0v14.0h-14.0zM1672.6 1299.1h14.0v14.0h-14.0zM1685.0 1302.3h14.0v14.0h-14.0zM1697.3 1307.9h14.0v14.0h-14.0zM1701.4 1349.2h14.0v14.0h-14.0zM1713.7 1302.9h14.0v14.0h-14.0zM1717.8 812.1h14.0v14.0h-14.0zM1721.9 1048.2h14.0v14.0h-14.0zM1730.1 538.9h14.0v14.0h-14.0zM1734.2 700.9h14.0v14.0h-14.0zM1738.3 886.1h14.0v14.0h-14.0zM1742.4 1039.0h14.0v14.0h-14.0zM1746.5 1140.8h14.0v14.0h-14.0zM1750.6 1228.8h14.0v14.0h-14.0zM1767.0 1281.8h14.0v14.0h-14.0zM1771.1 1277.6h14.0v14.0h-14.0zM1775.2 1289.5h14.0v14.0h-14.0zM1779.3 1286.2h14.0v14.0h-14.0zM1791.6 1302.2h14.0v14.0h-14.0zM1808.1 1314.3h14.0v14.0h-14.0zM1812.2 1313.6h14.0v14.0h-14.0zM1816.3 1318.4h14.0v14.0h-14.0zM1820.4 1316.1h14.0v14.0h-14.0zM1824.5 1311.6h14.0v14.0h-14.0zM1832.7 1285.9h14.0v14.0h-14.0zM1840.9 1251.1h14.0v14.0h-14.0zM1853.2 1216.1h14.0v14.0h-14.0zM1857.3 1218.5h14.0v14.0h-14.0zM1873.7 1229.3h14.0v14.0h-14.0zM1877.8 1229.2h14.0v14.0h-14.0zM1881.9 1229.1h14.0v14.0h-14.0zM1886.0 1228.6h14.0v14.0h-14.0zM1890.1 1227.9h14.0v14.0h-14.0zM1894.2 1229.2h14.0v14.0h-14.0zM1898.3 1229.3h14.0v14.0h-14.0zM1902.4 1229.9h14.0v14.0h-14.0zM1918.8 1237.6h14.0v14.0h-14.0zM1923.0 1240.3h14.0v14.0h-14.0zM1943.5 1249.7h14.0v14.0h-14.0zM1947.6 1251.1h14.0v14.0h-14.0zM1951.7 1251.9h14.0v14.0h-14.0zM1955.8 1251.8h14.0v14.0h-14.0zM1959.9 1251.5h14.0v14.0h-14.0zM1964.0 1251.5h14.0v14.0h-14.0zM1968.1 1252.2h14.0v14.0h-14.0zM1972.2 1253.5h14.0v14.0h-14.0zM1988.6 1258.0h14.0v14.0h-14.0zM1992.7 1258.4h14.0v14.0h-14.0zM1996.8 1259.0h14.0v14.0h-14.0zM2017.3 1265.2h14.0v14.0h-14.0zM2021.4 1267.3h14.0v14.0h-14.0zM2025.5 1268.4h14.0v14.0h-14.0zM2029.6 1269.1h14.0v14.0h-14.0zM2033.7 1270.6h14.0v14.0h-14.0zM2037.8 1272.3h14.0v14.0h-14.0zM2042.0 1272.0h14.0v14.0h-14.0zM2058.4 1256.6h14.0v14.0h-14.0zM2066.6 1230.9h14.0v14.0h-14.0zM2070.7 1218.1h14.0v14.0h-14.0zM2074.8 1209.9h14.0v14.0h-14.0zM2091.2 1259.8h14.0v14.0h-14.0zM2107.6 1287.7h14.0v14.0h-14.0zM2111.7 1300.8h14.0v14.0h-14.0zM2132.2 1289.4h14.0v14.0h-14.0zM2140.4 1372.4h14.0v14.0h-14.0zM2173.3 770.4h14.0v14.0h-14.0zM2177.4 955.6h14.0v14.0h-14.0zM2185.6 1196.4h14.0v14.0h-14.0zM2193.8 1260.6h14.0v14.0h-14.0zM2197.9 1262.6h14.0v14.0h-14.0zM2202.0 1274.7h14.0v14.0h-14.0zM2210.2 1283.4h14.0v14.0h-14.0zM2214.3 1281.5h14.0v14.0h-14.0zM2226.6 1297.3h14.0v14.0h-14.0zM2230.7 1296.7h14.0v14.0h-14.0zM2234.8 1305.5h14.0v14.0h-14.0zM2238.9 1306.6h14.0v14.0h-14.0zM2243.0 1314.5h14.0v14.0h-14.0zM2247.1 1314.4h14.0v14.0h-14.0zM2259.4 1311.8h14.0v14.0h-14.0zM2263.5 1305.9h14.0v14.0h-14.0zM2271.7 1286.6h14.0v14.0h-14.0zM2275.8 1271.5h14.0v14.0h-14.0zM2284.1 1240.5h14.0v14.0h-14.0zM2304.6 1226.9h14.0v14.0h-14.0zM2308.7 1227.2h14.0v14.0h-14.0zM2312.8 1227.9h14.0v14.0h-14.0zM2316.9 1228.3h14.0v14.0h-14.0zM2321.0 1229.4h14.0v14.0h-14.0zM2325.1 1229.6h14.0v14.0h-14.0zM2329.2 1229.0h14.0v14.0h-14.0zM2349.7 1236.3h14.0v14.0h-14.0zM2353.4 1236.5h14.0v14.0h-14.0z" fill="#D95319" stroke="none"/>
</g>
<g font-size="63px" fill="#262626">
<text x="307.7" y="1796.3" text-anchor="middle">0</text>
<text x="512.9" y="1796.3" text-anchor="middle">50</text>
<text x="718.0" y="1796.3" text-anchor="middle">100</text>
<text x="923.2" y="1796.3" text-anchor="middle">150</text>
<text x="1128.4" y="1796.3" text-anchor="middle">200</text>
<text x="1333.6" y="1796.3" text-anchor="middle">250</text>
<text x="1538.7" y="1796.3" text-anchor="middle">300</text>
<text x="1743.9" y="1796.3" text-anchor="middle">350</text>
<text x="1949.1" y="1796.3" text-anchor="middle">400</text>
<text x="2154.2" y="1796.3" text-anchor="middle">450</text>
<text x="2359.4" y="1796.3" text-anchor="middle">500</text>
<text x="281" y="1730.0" text-anchor="end">-100</text>
<text x="281" y="1498.5" text-anchor="end">-50</text>
<text x="281" y="1266.9" text-anchor="end">0</text>
<text x="281" y="1035.4" text-anchor="end">50</text>
<text x="281" y="803.9" text-anchor="end">100</text>
<text x="281" y="572.4" text-anchor="end">150</text>
<text x="281" y="340.8" text-anchor="end">200</text>
<text x="281" y="109.3" text-anchor="end">250</text>
</g>
<text x="1333" y="1896.4" text-anchor="middle" font-size="75.5px" fill="#262626">Time in seconds</text>
<text transform="translate(119.5 895) rotate(-90)" text-anchor="middle" font-size="75.5px" fill="#262626">Amplitude in volts</text>
<rect x="1542.1" y="130.1" width="795.1" height="169.8" fill="#fff" stroke="#262626" stroke-width="4.2"/>
<line x1="1561.1" y1="176.8" x2="1751.1" y2="176.8" stroke="#0072BD" stroke-width="10.2"/>
<line x1="1561.1" y1="252.8" x2="1751.1" y2="252.8" stroke="#D95319" stroke-width="15" stroke-dasharray="39 8.5 18.6 9.5"/>
<g font-size="57px" fill="#000">
<text x="1763.5" y="200">Original ECG</text>
<text x="1763.5" y="276.8">IIR notch filtered ECG</text>
</g>
</svg>
</body></html>
